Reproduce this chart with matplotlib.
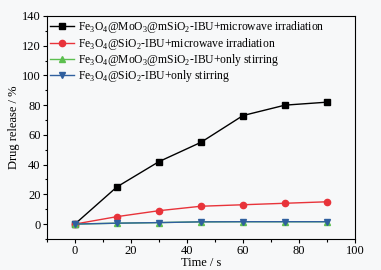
import matplotlib.pyplot as plt
import numpy as np

plt.rcParams['font.family'] = ['Liberation Serif', 'DejaVu Serif']
plt.rcParams['mathtext.fontset'] = 'custom'
plt.rcParams['mathtext.rm'] = 'Liberation Serif'

# Release data
time = [0, 15, 30, 45, 60, 75, 90]
mo_microwave = [0, 25, 42, 55, 73, 80, 82]
si_microwave = [0, 5, 9, 12, 13, 14, 15]
mo_stirring = [0, 0.6, 1, 1.5, 1.6, 1.6, 1.6]
si_stirring = [0, 0.6, 1, 1.5, 1.6, 1.6, 1.6]

labels = [
    r"Fe$_3$O$_4$@MoO$_3$@mSiO$_2$-IBU+microwave irradiation",
    r"Fe$_3$O$_4$@SiO$_2$-IBU+microwave irradiation",
    r"Fe$_3$O$_4$@MoO$_3$@mSiO$_2$-IBU+only stirring",
    r"Fe$_3$O$_4$@SiO$_2$-IBU+only stirring",
]

bg = '#f7f8f9'
fig = plt.figure(figsize=(3.81, 2.70), dpi=100, facecolor=bg)
ax = fig.add_axes([0.123, 0.115, 0.809, 0.826], facecolor=bg)

ax.plot(time, mo_microwave, color='black', marker='s', ms=4.5, lw=1, label=labels[0])
ax.plot(time, si_microwave, color='#e8333a', marker='o', ms=4.5, lw=1, label=labels[1])
ax.plot(time, mo_stirring, color='#5cbf4f', marker='^', ms=4.5, lw=1, label=labels[2])
ax.plot(time, si_stirring, color='#2f5f9e', marker='v', ms=4.5, lw=1, label=labels[3])

ax.set_xlim(-10, 100)
ax.set_ylim(-10, 140)
ax.set_xticks(np.arange(0, 101, 20))
ax.set_yticks(np.arange(0, 141, 20))
ax.set_xticks(np.arange(-10, 101, 10), minor=True)
ax.set_yticks(np.arange(-10, 141, 10), minor=True)
ax.tick_params(direction='out', labelsize=9, length=3, width=0.8, pad=1.5)
ax.tick_params(which='minor', direction='out', length=1.8, width=0.8)
for s in ax.spines.values():
    s.set_linewidth(0.8)

ax.set_xlabel("Time / s", fontsize=9, labelpad=0)
ax.set_ylabel("Drug release / %", fontsize=9, labelpad=1)

ax.legend(loc='upper left', frameon=False, fontsize=8.4, handlelength=2.0,
          handletextpad=0.4, labelspacing=0.02, borderaxespad=0.0,
          borderpad=0.3)

plt.savefig('out.png', dpi=100, facecolor=bg)
